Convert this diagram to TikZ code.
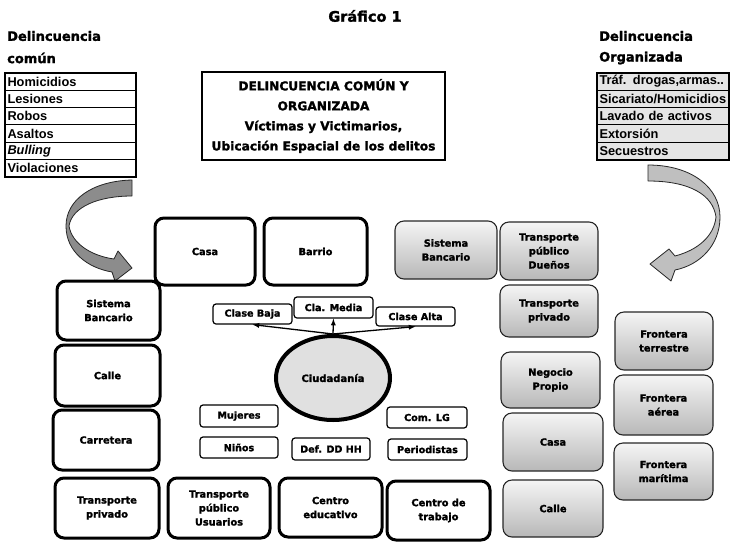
\documentclass[tikz,border=0pt]{standalone}
\usepackage{fontspec}
\setmainfont{Liberation Sans}
\newfontfamily\heavy{DejaVu Sans}[BoldFeatures={FakeBold=1.6}]
\usetikzlibrary{arrows,positioning,shapes.geometric}

\tikzset{
  lugar/.style={draw,line width=3pt,rounded corners=9pt,align=center,inner sep=0pt,
    font=\heavy\bfseries\fontsize{9.8}{14}\selectfont},
  lugarg/.style={draw=black!85,line width=1.1pt,rounded corners=9pt,align=center,inner sep=0pt,
    top color=black!4,bottom color=black!28,font=\heavy\bfseries\fontsize{9.8}{14}\selectfont},
  grupo/.style={draw,line width=1.2pt,rounded corners=3pt,inner sep=0pt,
    font=\heavy\bfseries\fontsize{9.6}{11}\selectfont},
  fila/.style={draw,line width=1pt,outer sep=0pt,minimum height=17.3pt,inner xsep=2.5pt,
    inner ysep=0pt,text width=#1,align=left,font=\bfseries\fontsize{12.8}{14}\selectfont},
  cabeza/.style={anchor=west,inner sep=0pt,font=\heavy\bfseries\fontsize{13}{14}\selectfont},
  flecha/.style={draw=black!85,line width=0.8pt,line join=round}
}

\begin{document}
\begin{tikzpicture}[x=1pt,y=-1pt]
\useasboundingbox (0,0) rectangle (730,541);

% titulo
\node[font=\heavy\bfseries\fontsize{14.5}{16}\selectfont] (graf) at (365,16) {Gráfico 1};
\node[draw,line width=1.5pt,minimum width=243pt,minimum height=88pt,align=center,inner sep=0pt,
  font=\heavy\bfseries\fontsize{12.2}{20}\selectfont] (titulo) at (323.5,116)
  {DELINCUENCIA COMÚN Y\\ORGANIZADA\\Víctimas y Victimarios,\\Ubicación Espacial de los delitos};

% delincuencia comun
\node[cabeza] (dc1) at (7,36) {Delincuencia};
\node[cabeza] (dc2) at (7,58) {común};
\node[fila=126pt,anchor=north west] (h1) at (5,73) {Homicidios};
\node[fila=126pt,below=0pt of h1] (h2) {Lesiones};
\node[fila=126pt,below=0pt of h2] (h3) {Robos};
\node[fila=126pt,below=0pt of h3] (h4) {Asaltos};
\node[fila=126pt,below=0pt of h4] (h5) {\itshape Bulling};
\node[fila=126pt,below=0pt of h5] (h6) {Violaciones};
\draw[line width=2pt] (h1.north west) rectangle (h6.south east);

% delincuencia organizada
\node[cabeza] (do1) at (599,36) {Delincuencia};
\node[cabeza] (do2) at (599,58) {Organizada};
\node[fila=127pt,fill=black!10,anchor=north west] (o1) at (597,73) {Tráf. drogas,armas..};
\node[fila=127pt,fill=black!10,below=0pt of o1] (o2) {Sicariato/Homicidios};
\node[fila=127pt,fill=black!10,below=0pt of o2] (o3) {Lavado de activos};
\node[fila=127pt,fill=black!10,below=0pt of o3] (o4) {Extorsión};
\node[fila=127pt,fill=black!10,below=0pt of o4] (o5) {Secuestros};
\draw[line width=2pt] (o1.north west) rectangle (o5.south east);

% flechas curvas
\filldraw[flecha,fill=black!45] (132,180) .. controls (92,181) and (66,200) .. (66,226)
  .. controls (66,252) and (88,268) .. (112,272) -- (115,281) -- (132,268) -- (118,251) -- (114,259)
  .. controls (92,256) and (72,244) .. (69,226) .. controls (72,207) and (98,196) .. (132,196) -- cycle;
\filldraw[flecha,fill=black!25] (648,165) .. controls (692,165) and (720,188) .. (720,217)
  .. controls (720,245) and (700,265) .. (675,270) -- (671,281) -- (650,264) -- (669,249) -- (675,256)
  .. controls (698,250) and (714,236) .. (716,217) .. controls (713,195) and (690,181) .. (648,181) -- cycle;

% lugares, borde grueso
\node[lugar,minimum width=100pt,minimum height=67pt] (casa) at (205,251.5) {Casa};
\node[lugar,minimum width=103pt,minimum height=67pt] (barrio) at (315.5,251.5) {Barrio};
\node[lugar,minimum width=103pt,minimum height=59pt] (sbanc) at (108.5,310.5) {Sistema\\Bancario};
\node[lugar,minimum width=105pt,minimum height=61pt] (calle) at (107.5,375.5) {Calle};
\node[lugar,minimum width=106pt,minimum height=60pt] (carre) at (106,440) {Carretera};
\node[lugar,minimum width=104pt,minimum height=60pt] (tpriv) at (107,508) {Transporte\\privado};
\node[lugar,minimum width=102pt,minimum height=60pt] (tpubu) at (219,508) {Transporte\\público\\Usuarios};
\node[lugar,minimum width=103pt,minimum height=59pt] (cedu) at (330.5,507.5) {Centro\\educativo};
\node[lugar,minimum width=103pt,minimum height=59pt] (ctrab) at (438.5,510.5) {Centro de\\trabajo};

% lugares, gris
\node[lugarg,minimum width=102pt,minimum height=58pt] (sbancg) at (446,250) {Sistema\\Bancario};
\node[lugarg,minimum width=98pt,minimum height=58pt] (tpubd) at (549,251) {Transporte\\público\\Dueños};
\node[lugarg,minimum width=98pt,minimum height=52pt] (tprivg) at (549,311) {Transporte\\privado};
\node[lugarg,minimum width=99pt,minimum height=56pt] (negocio) at (550.5,380) {Negocio\\Propio};
\node[lugarg,minimum width=100pt,minimum height=58pt] (casag) at (553,442) {Casa};
\node[lugarg,minimum width=100pt,minimum height=57pt] (calleg) at (553,508.5) {Calle};
\node[lugarg,minimum width=98pt,minimum height=58pt] (fterr) at (664,341) {Frontera\\terrestre};
\node[lugarg,minimum width=99pt,minimum height=60pt] (faer) at (663.5,405) {Frontera\\aérea};
\node[lugarg,minimum width=99pt,minimum height=57pt] (fmar) at (663.5,471.5) {Frontera\\marítima};

% ciudadania
\node[draw,ellipse,line width=4pt,fill=black!12,minimum width=114pt,minimum height=84pt,
  font=\heavy\bfseries\fontsize{10}{12}\selectfont] (ciud) at (333,378) {Ciudadanía};
\node[grupo,minimum width=79pt,minimum height=20pt] (baja) at (252.5,314) {Clase Baja};
\node[grupo,minimum width=79pt,minimum height=21pt] (media) at (333.5,307.5) {Cla. Media};
\node[grupo,minimum width=79pt,minimum height=19pt] (alta) at (415.5,316.5) {Clase Alta};
\draw[line width=1.3pt,-latex] (ciud.north) -- (baja.south);
\draw[line width=1.3pt,-latex] (ciud.north) -- (media.south);
\draw[line width=1.3pt,-latex] (ciud.north) -- (alta.south);

\node[grupo,minimum width=78pt,minimum height=22pt] (mujeres) at (239,416) {Mujeres};
\node[grupo,minimum width=78pt,minimum height=21pt] (ninos) at (239,447.5) {Niños};
\node[grupo,minimum width=78pt,minimum height=22pt] (defdh) at (331,449) {Def. DD HH};
\node[grupo,minimum width=80pt,minimum height=21pt] (comlg) at (427,417.5) {Com. LG};
\node[grupo,minimum width=79pt,minimum height=21pt] (period) at (427.5,449.5) {Periodistas};
\end{tikzpicture}
\end{document}
